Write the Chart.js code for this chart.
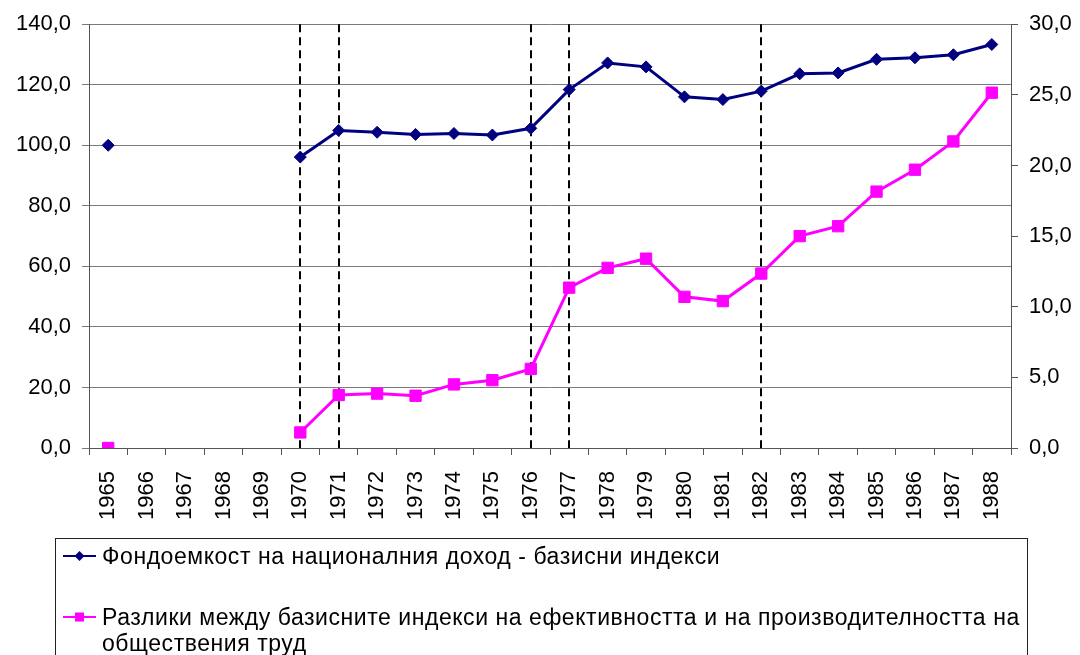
<!DOCTYPE html>
<html>
<head>
<meta charset="utf-8">
<script src="https://cdn.jsdelivr.net/npm/chart.js@4/dist/chart.umd.min.js"></script>
<style>
  html, body { margin: 0; padding: 0; background: #fff; }
  #wrap { position: relative; width: 1080px; height: 655px; overflow: hidden; }
  #legend {
    position: absolute; left: 55px; top: 538px; width: 973px; height: 140px;
    border: 1px solid #222; box-sizing: border-box;
    font-family: "Liberation Sans", Arial, sans-serif; font-size: 23px; letter-spacing: 0.55px; color: #000;
  }
  .item { position: absolute; left: 0; display: flex; align-items: flex-start; }
  .item svg { flex: none; margin-left: 7px; margin-right: 6px; margin-top: 3px; }
  .item span { line-height: 26px; }
</style>
</head>
<body>
<div id="wrap">
  <canvas id="c" width="1080" height="655"></canvas>
  <div id="legend">
    <div class="item" style="top:4px;">
      <svg width="33" height="20"><line x1="0" y1="10" x2="33" y2="10" stroke="#000080" stroke-width="2"/><polygon points="16.5,5 21.5,10 16.5,15 11.5,10" fill="#000080"/></svg>
      <span id="l1"></span>
    </div>
    <div class="item" style="top:65px; width: 970px;">
      <svg width="33" height="20"><line x1="0" y1="10" x2="33" y2="10" stroke="#FF00FF" stroke-width="2"/><rect x="12" y="5.5" width="9" height="9" fill="#FF00FF"/></svg>
      <span id="l2"></span>
    </div>
  </div>
</div>
<script>
const years = ['1965','1966','1967','1968','1969','1970','1971','1972','1973','1974','1975','1976','1977','1978','1979','1980','1981','1982','1983','1984','1985','1986','1987','1988'];
const fondoemkost = [100.0, null, null, null, null, 96.1, 104.9, 104.3, 103.6, 103.9, 103.4, 105.6, 118.4, 127.2, 125.9, 116.0, 115.1, 117.9, 123.6, 123.9, 128.4, 128.9, 129.9, 133.3];
const razliki = [0.0, null, null, null, null, 1.1, 3.75, 3.85, 3.7, 4.5, 4.8, 5.6, 11.35, 12.75, 13.4, 10.7, 10.4, 12.35, 15.0, 15.7, 18.15, 19.7, 21.7, 25.15];
const dashedYears = ['1970','1971','1976','1977','1982'];
const label1 = 'Фондоемкост на националния доход - базисни индекси';
const label2 = 'Разлики между базисните индекси на ефективността и на производителността на обществения труд';

document.getElementById('l1').textContent = label1;
document.getElementById('l2').textContent = label2;

const FONT = { family: '"Liberation Sans", Arial, sans-serif', size: 22 };
const fmt = v => Number(v).toFixed(1).replace('.', ',');

const dashedLines = {
  id: 'dashedLines',
  beforeDatasetsDraw(chart) {
    const ctx = chart.ctx, x = chart.scales.x, a = chart.chartArea;
    ctx.save();
    ctx.strokeStyle = '#000';
    ctx.lineWidth = 2;
    ctx.setLineDash([8, 5]);
    dashedYears.forEach(y => {
      const px = Math.round(x.getPixelForValue(years.indexOf(y)));
      ctx.beginPath();
      ctx.moveTo(px, a.top);
      ctx.lineTo(px, a.bottom);
      ctx.stroke();
    });
    ctx.restore();
  }
};

new Chart(document.getElementById('c'), {
  type: 'line',
  data: {
    labels: years,
    datasets: [
      {
        label: label1, data: fondoemkost, yAxisID: 'y',
        borderColor: '#000080', backgroundColor: '#000080', borderWidth: 3,
        pointStyle: 'rectRot', pointRadius: 6, pointBorderWidth: 1,
        pointBackgroundColor: '#000080', pointBorderColor: '#000080',
        spanGaps: false, tension: 0
      },
      {
        label: label2, data: razliki, yAxisID: 'y2',
        borderColor: '#FF00FF', backgroundColor: '#FF00FF', borderWidth: 3,
        pointStyle: 'rect', pointRadius: 8, pointBorderWidth: 1,
        pointBackgroundColor: '#FF00FF', pointBorderColor: '#FF00FF',
        spanGaps: false, tension: 0
      }
    ]
  },
  options: {
    responsive: false,
    animation: false,
    layout: { padding: { top: 22, left: 0, right: 0, bottom: 107 } },
    plugins: { legend: { display: false }, tooltip: { enabled: false } },
    scales: {
      x: {
        offset: true,
        grid: { offset: true, drawOnChartArea: false, tickLength: 7, color: '#555' },
        border: { color: '#555', width: 1 },
        ticks: { color: '#000', font: FONT, minRotation: 90, maxRotation: 90, autoSkip: false, padding: 16 },
        afterFit(s) { s.height = 100; }
      },
      y: {
        position: 'left', min: 0, max: 140,
        ticks: { stepSize: 20, color: '#000', font: FONT, padding: 11, callback: fmt },
        grid: { color: '#7a7a7a', lineWidth: 1, tickLength: 7, drawTicks: true },
        border: { color: '#555', width: 1 },
        afterFit(s) { s.width = 89; }
      },
      y2: {
        position: 'right', min: 0, max: 30,
        ticks: { stepSize: 5, color: '#000', font: FONT, padding: 11, callback: fmt },
        grid: { drawOnChartArea: false, tickLength: 7, color: '#555' },
        border: { color: '#555', width: 1 },
        afterFit(s) { s.width = 69; }
      }
    }
  },
  plugins: [dashedLines]
});
</script>
</body>
</html>
